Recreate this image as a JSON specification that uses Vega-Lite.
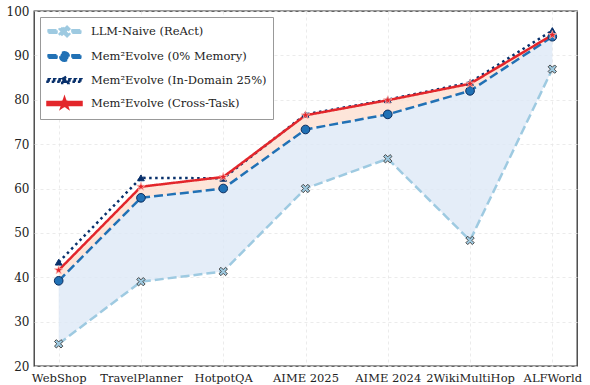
{
  "$schema": "https://vega.github.io/schema/vega-lite/v6.json",
  "width": 543,
  "height": 355,
  "autosize": {"type": "none"},
  "padding": {"left": 34, "top": 11, "right": 13, "bottom": 19},
  "config": {
    "font": "DejaVu Serif",
    "view": {"stroke": "#333333", "strokeWidth": 1.3},
    "axis": {
      "labelFont": "DejaVu Serif",
      "labelFontSize": 11.5,
      "labelColor": "#222222",
      "grid": true,
      "gridColor": "#e6e6e6",
      "gridDash": [3, 3],
      "gridWidth": 0.8,
      "ticks": false,
      "domain": false,
      "title": null
    }
  },
  "data": {
    "values": [
      {"task": "WebShop", "naive": 25.0, "mem0": 39.2, "indomain": 43.4, "cross": 41.6},
      {"task": "TravelPlanner", "naive": 39.0, "mem0": 57.9, "indomain": 62.4, "cross": 60.4},
      {"task": "HotpotQA", "naive": 41.3, "mem0": 60.0, "indomain": 62.3, "cross": 62.6},
      {"task": "AIME 2025", "naive": 60.0, "mem0": 73.3, "indomain": 76.7, "cross": 76.5},
      {"task": "AIME 2024", "naive": 66.7, "mem0": 76.7, "indomain": 80.0, "cross": 79.9},
      {"task": "2WikiMultiHop", "naive": 48.3, "mem0": 82.0, "indomain": 83.9, "cross": 83.6},
      {"task": "ALFWorld", "naive": 86.9, "mem0": 94.2, "indomain": 95.6, "cross": 94.6}
    ]
  },
  "encoding": {
    "x": {
      "field": "task",
      "type": "nominal",
      "sort": null,
      "scale": {"type": "point", "padding": 0.3},
      "axis": {"labelAngle": 0, "labelPadding": 6}
    }
  },
  "layer": [
    {
      "mark": {"type": "area", "color": "#dde8f6", "opacity": 0.8},
      "encoding": {
        "y": {"field": "naive", "type": "quantitative", "scale": {"domain": [20, 100], "nice": false}, "axis": {"values": [20, 30, 40, 50, 60, 70, 80, 90, 100], "labelPadding": 5, "labelFontSize": 12}},
        "y2": {"field": "mem0"}
      }
    },
    {
      "mark": {"type": "area", "color": "#fcdccc", "opacity": 0.75},
      "encoding": {
        "y": {"field": "mem0", "type": "quantitative"},
        "y2": {"field": "cross"}
      }
    },
    {
      "transform": [
        {"fold": ["naive", "mem0", "indomain", "cross"], "as": ["key", "value"]},
        {"lookup": "key", "from": {"data": {"values": [
          {"key": "naive", "series": "LLM-Naive (ReAct)"},
          {"key": "mem0", "series": "Mem²Evolve (0% Memory)"},
          {"key": "indomain", "series": "Mem²Evolve (In-Domain 25%)"},
          {"key": "cross", "series": "Mem²Evolve (Cross-Task)"}
        ]}, "key": "key", "fields": ["series"]}}
      ],
      "mark": {"type": "line", "strokeCap": "butt"},
      "encoding": {
        "y": {"field": "value", "type": "quantitative"},
        "color": {
          "field": "series",
          "type": "nominal",
          "sort": ["LLM-Naive (ReAct)", "Mem²Evolve (0% Memory)", "Mem²Evolve (In-Domain 25%)", "Mem²Evolve (Cross-Task)"],
          "scale": {
            "domain": ["LLM-Naive (ReAct)", "Mem²Evolve (0% Memory)", "Mem²Evolve (In-Domain 25%)", "Mem²Evolve (Cross-Task)"],
            "range": ["#9ecae1", "#2171b5", "#08306b", "#e3262b"]
          },
          "legend": {
            "title": null,
            "orient": "top-left",
            "offset": 6,
            "padding": 6,
            "strokeColor": "#999999",
            "fillColor": "#ffffff",
            "labelFont": "DejaVu Serif",
            "labelFontSize": 11.5,
            "labelColor": "#222222",
            "labelLimit": 400,
            "symbolSize": 196,
            "symbolStrokeWidth": 0,
            "symbolOffset": 10,
            "labelOffset": 18,
            "rowPadding": 5,
            "encode": {
              "symbols": {
                "update": {
                  "shape": {"signal": "indexof(datum.value,'ReAct')>=0 ? 'M-2.43,-0.18L-0.97,-0.18L-0.97,0.18L-2.43,0.18ZM0.97,-0.18L2.43,-0.18L2.43,0.18L0.97,0.18ZM0,-0.32L0.36,-0.68L0.68,-0.36L0.32,0L0.68,0.36L0.36,0.68L0,0.32L-0.36,0.68L-0.68,0.36L-0.32,0L-0.68,-0.36L-0.36,-0.68Z' : indexof(datum.value,'0%')>=0 ? 'M-2.43,-0.18L-0.97,-0.18L-0.97,0.18L-2.43,0.18ZM0.97,-0.18L2.43,-0.18L2.43,0.18L0.97,0.18ZM-0.61,0A0.61,0.61 0 1,0 0.61,0A0.61,0.61 0 1,0 -0.61,0Z' : indexof(datum.value,'In-Domain')>=0 ? 'M-2.43,-0.18L-2.09,-0.18L-2.09,0.18L-2.43,0.18ZM-1.65,-0.18L-1.31,-0.18L-1.31,0.18L-1.65,0.18ZM-0.87,-0.18L-0.53,-0.18L-0.53,0.18L-0.87,0.18ZM0.53,-0.18L0.87,-0.18L0.87,0.18L0.53,0.18ZM1.31,-0.18L1.65,-0.18L1.65,0.18L1.31,0.18ZM2.09,-0.18L2.43,-0.18L2.43,0.18L2.09,0.18ZM0,-0.58L0.51,0.34L-0.51,0.34Z' : 'M-2.43,-0.21L2.43,-0.21L2.43,0.21L-2.43,0.21ZM0,-0.73L0.17,-0.24L0.7,-0.22L0.27,0.1L0.44,0.58L0,0.29L-0.44,0.58L-0.27,0.1L-0.7,-0.22L-0.17,-0.24Z'"},
                  "fill": {"signal": "indexof(datum.value,'ReAct')>=0 ? '#9ecae1' : indexof(datum.value,'0%')>=0 ? '#2171b5' : indexof(datum.value,'In-Domain')>=0 ? '#08306b' : '#e3262b'"},
                  "stroke": {"value": "transparent"},
                  "opacity": {"value": 1},
                  "fillOpacity": {"value": 1}
                }
              }
            }
          }
        },
        "strokeDash": {
          "field": "series",
          "type": "nominal",
          "scale": {
            "domain": ["LLM-Naive (ReAct)", "Mem²Evolve (0% Memory)", "Mem²Evolve (In-Domain 25%)", "Mem²Evolve (Cross-Task)"],
            "range": [[9, 4], [9, 4], [2.5, 3.5], [1, 0]]
          },
          "legend": null
        },
        "strokeWidth": {
          "field": "series",
          "type": "nominal",
          "scale": {
            "domain": ["LLM-Naive (ReAct)", "Mem²Evolve (0% Memory)", "Mem²Evolve (In-Domain 25%)", "Mem²Evolve (Cross-Task)"],
            "range": [2.5, 2.5, 2.5, 3]
          },
          "legend": null
        }
      }
    },
    {
      "mark": {"type": "point", "filled": true, "opacity": 1, "shape": "M0,-0.45L0.55,-1L1,-0.55L0.45,0L1,0.55L0.55,1L0,0.45L-0.55,1L-1,0.55L-0.45,0L-1,-0.55L-0.55,-1Z", "fill": "#9ecae1", "stroke": "#4a4a4a", "strokeWidth": 1, "size": 70},
      "encoding": {"y": {"field": "naive", "type": "quantitative"}}
    },
    {
      "mark": {"type": "point", "filled": true, "opacity": 1, "shape": "circle", "fill": "#2171b5", "stroke": "#0b2d5e", "strokeWidth": 1, "size": 75},
      "encoding": {"y": {"field": "mem0", "type": "quantitative"}}
    },
    {
      "mark": {"type": "point", "filled": true, "opacity": 1, "shape": "triangle-up", "fill": "#08306b", "stroke": "#08306b", "strokeWidth": 1, "size": 45},
      "encoding": {"y": {"field": "indomain", "type": "quantitative"}}
    },
    {
      "mark": {"type": "point", "filled": true, "opacity": 1, "shape": "M0,-1L0.235,-0.324L0.951,-0.309L0.38,0.124L0.588,0.809L0,0.4L-0.588,0.809L-0.38,0.124L-0.951,-0.309L-0.235,-0.324Z", "fill": "#e3262b", "stroke": "#fcb9b2", "strokeWidth": 0.8, "size": 80},
      "encoding": {"y": {"field": "cross", "type": "quantitative"}}
    }
  ]
}
